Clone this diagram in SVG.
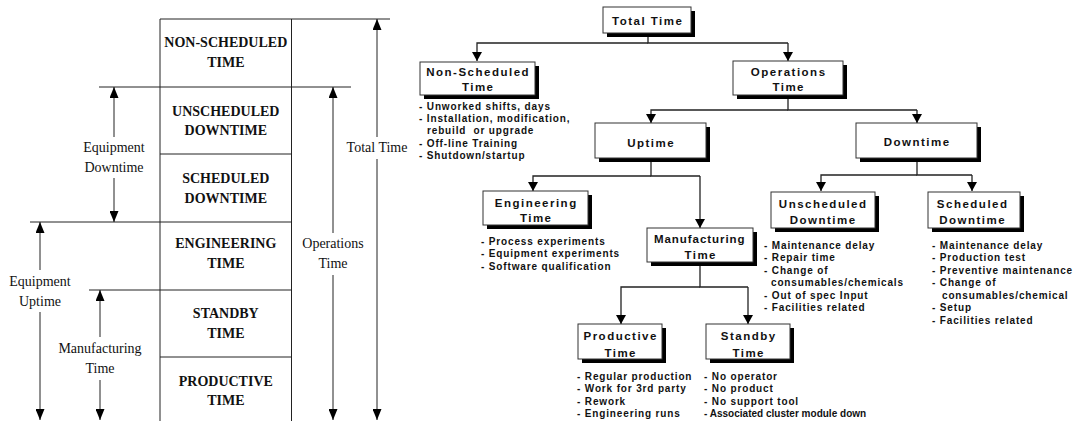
<svg xmlns="http://www.w3.org/2000/svg" width="1074" height="421" viewBox="0 0 1074 421">
<style>
.ln{stroke:#222;stroke-width:1;fill:none}
.col{font-family:"Liberation Serif","Times New Roman",serif;font-weight:bold;font-size:14px;fill:#111;text-anchor:middle}
.lab{font-family:"Liberation Serif","Times New Roman",serif;font-size:14px;fill:#111;text-anchor:middle}
.box{fill:#fff;stroke:#333;stroke-width:1}
.sh{fill:#000}
.tt{font-family:"Liberation Sans",Arial,sans-serif;font-weight:bold;font-size:11.5px;letter-spacing:1.5px;fill:#111;text-anchor:middle}
.bl{font-family:"Liberation Sans",Arial,sans-serif;font-weight:bold;font-size:10px;letter-spacing:0.85px;fill:#111}
.cn{stroke:#222;stroke-width:1.3;fill:none;marker-end:url(#ah)}
.cs{stroke:#222;stroke-width:1.3;fill:none}
.la{stroke:#222;stroke-width:1;fill:none;marker-end:url(#al)}
</style>
<defs>
<marker id="ah" markerUnits="userSpaceOnUse" markerWidth="9" markerHeight="10" viewBox="0 0 9 10" refX="9" refY="5" orient="auto"><path d="M0 0 L9 5 L0 10 Z" fill="#000"/></marker>
<marker id="al" markerUnits="userSpaceOnUse" markerWidth="11" markerHeight="9" viewBox="0 0 11 9" refX="11" refY="4.5" orient="auto"><path d="M0 0 L11 4.5 L0 9 Z" fill="#000"/></marker>
</defs>
<rect width="1074" height="421" fill="#fff"/>

<!-- Left stacked column -->
<g id="time-column">
<path class="ln" d="M160 19 V421 M291.5 19 V421 M160 19 H390 M99 87 H351 M160 154 H291.5 M30 222 H291.5 M89 290 H291.5 M160 357 H291.5"/>
<text class="col" x="225.8" y="47">NON-SCHEDULED</text><text class="col" x="225.8" y="67">TIME</text>
<text class="col" x="225.8" y="116">UNSCHEDULED</text><text class="col" x="225.8" y="135">DOWNTIME</text>
<text class="col" x="225.8" y="183">SCHEDULED</text><text class="col" x="225.8" y="203">DOWNTIME</text>
<text class="col" x="225.8" y="248">ENGINEERING</text><text class="col" x="225.8" y="268">TIME</text>
<text class="col" x="225.8" y="318">STANDBY</text><text class="col" x="225.8" y="338">TIME</text>
<text class="col" x="225.8" y="386">PRODUCTIVE</text><text class="col" x="225.8" y="405">TIME</text>
</g>
<g id="left-arrows">
<path class="la" d="M114 137 V87"/><path class="la" d="M114 178 V222"/>
<path class="la" d="M377 137 V19"/><path class="la" d="M377 159 V420"/>
<path class="la" d="M333 233 V87"/><path class="la" d="M333 275 V420"/>
<path class="la" d="M40 270 V222"/><path class="la" d="M40 312 V420"/>
<path class="la" d="M100 337 V290"/><path class="la" d="M100 380 V420"/>
</g>
<g id="left-labels">
<text class="lab" x="114" y="152">Equipment</text><text class="lab" x="114" y="172">Downtime</text>
<text class="lab" x="377" y="152">Total Time</text>
<text class="lab" x="333" y="248">Operations</text><text class="lab" x="333" y="268">Time</text>
<text class="lab" x="40" y="286">Equipment</text><text class="lab" x="40" y="306">Uptime</text>
<text class="lab" x="100" y="353">Manufacturing</text><text class="lab" x="100" y="373">Time</text>
</g>

<!-- Tree connectors -->
<g id="connectors">
<path class="cs" d="M648 33 V43 H788"/>
<path class="cn" d="M648 43 H477 V61"/>
<path class="cn" d="M788 43 V61"/>
<path class="cs" d="M788 95 V110 H917"/>
<path class="cn" d="M788 110 H651 V123"/>
<path class="cn" d="M917 110 V123"/>
<path class="cs" d="M651 158 V176 H700"/>
<path class="cn" d="M651 176 H533 V191"/>
<path class="cn" d="M700 176 V228"/>
<path class="cs" d="M917 158 V175 H972"/>
<path class="cn" d="M917 175 H821 V191"/>
<path class="cn" d="M972 175 V191"/>
<path class="cs" d="M700 262 V287 H748"/>
<path class="cn" d="M700 287 H621 V324"/>
<path class="cn" d="M748 287 V324"/>
</g>

<g id="total-time">
<rect class="sh" x="607" y="11" width="88" height="26"/><rect class="box" x="603" y="7" width="88" height="26"/>
<text class="tt" x="647.7" y="25">Total Time</text>
</g>
<g id="non-scheduled-time">
<rect class="sh" x="424" y="66" width="115" height="33"/><rect class="box" x="420" y="62" width="115" height="33"/>
<text class="tt" x="478.2" y="76">Non-Scheduled</text><text class="tt" x="478.2" y="91">Time</text>
<text class="bl" x="419" y="109.5">- Unworked shifts, days</text>
<text class="bl" x="419" y="122">- Installation, modification,</text>
<text class="bl" x="427" y="134.3" xml:space="preserve">rebuild  or upgrade</text>
<text class="bl" x="419" y="146.7">- Off-line Training</text>
<text class="bl" x="419" y="159">- Shutdown/startup</text>
</g>
<g id="operations-time">
<rect class="sh" x="737" y="65" width="110" height="34"/><rect class="box" x="733" y="61" width="110" height="34"/>
<text class="tt" x="788.7" y="76">Operations</text><text class="tt" x="788.7" y="91">Time</text>
</g>
<g id="uptime">
<rect class="sh" x="599" y="127" width="111" height="35"/><rect class="box" x="595" y="123" width="111" height="35"/>
<text class="tt" x="651.2" y="146.5">Uptime</text>
</g>
<g id="downtime">
<rect class="sh" x="860" y="127" width="121" height="35"/><rect class="box" x="856" y="123" width="121" height="35"/>
<text class="tt" x="917.2" y="146">Downtime</text>
</g>
<g id="engineering-time">
<rect class="sh" x="487" y="195" width="105" height="34"/><rect class="box" x="483" y="191" width="105" height="34"/>
<text class="tt" x="536.2" y="207">Engineering</text><text class="tt" x="536.2" y="222">Time</text>
<text class="bl" x="481" y="244.5">- Process experiments</text>
<text class="bl" x="481" y="257">- Equipment experiments</text>
<text class="bl" x="481" y="269.5">- Software qualification</text>
</g>
<g id="manufacturing-time">
<rect class="sh" x="651" y="232" width="106" height="34"/><rect class="box" x="647" y="228" width="106" height="34"/>
<text class="tt" x="700" y="243" textLength="92" lengthAdjust="spacing">Manufacturing</text><text class="tt" x="700.7" y="259">Time</text>
</g>
<g id="unscheduled-downtime">
<rect class="sh" x="775" y="196" width="104" height="36"/><rect class="box" x="771" y="192" width="104" height="36"/>
<text class="tt" x="823.2" y="208">Unscheduled</text><text class="tt" x="823.2" y="224">Downtime</text>
<text class="bl" x="764" y="248.5">- Maintenance delay</text>
<text class="bl" x="764" y="261">- Repair time</text>
<text class="bl" x="764" y="273.5">- Change of</text>
<text class="bl" x="771" y="286">consumables/chemicals</text>
<text class="bl" x="764" y="298.5">- Out of spec Input</text>
<text class="bl" x="764" y="311">- Facilities related</text>
</g>
<g id="scheduled-downtime">
<rect class="sh" x="932" y="196" width="92" height="36"/><rect class="box" x="928" y="192" width="92" height="36"/>
<text class="tt" x="972.7" y="208">Scheduled</text><text class="tt" x="972.7" y="224">Downtime</text>
<text class="bl" x="932" y="248.5">- Maintenance delay</text>
<text class="bl" x="932" y="261">- Production test</text>
<text class="bl" x="932" y="273.5">- Preventive maintenance</text>
<text class="bl" x="932" y="286">- Change of</text>
<text class="bl" x="942" y="298.5">consumables/chemical</text>
<text class="bl" x="932" y="311">- Setup</text>
<text class="bl" x="932" y="323.5">- Facilities related</text>
</g>
<g id="productive-time">
<rect class="sh" x="582" y="328" width="84" height="35"/><rect class="box" x="578" y="324" width="84" height="35"/>
<text class="tt" x="620.7" y="340">Productive</text><text class="tt" x="620.7" y="356.5">Time</text>
<text class="bl" x="577" y="379.5">- Regular production</text>
<text class="bl" x="577" y="392">- Work for 3rd party</text>
<text class="bl" x="577" y="404.5">- Rework</text>
<text class="bl" x="577" y="417">- Engineering runs</text>
</g>
<g id="standby-time">
<rect class="sh" x="710" y="328" width="84" height="35"/><rect class="box" x="706" y="324" width="84" height="35"/>
<text class="tt" x="748.7" y="340">Standby</text><text class="tt" x="748.7" y="356.5">Time</text>
<text class="bl" x="704" y="379.5">- No operator</text>
<text class="bl" x="704" y="392">- No product</text>
<text class="bl" x="704" y="404.5">- No support tool</text>
<text class="bl" x="704" y="417" textLength="163" lengthAdjust="spacing">- Associated cluster module down</text>
</g>
</svg>
